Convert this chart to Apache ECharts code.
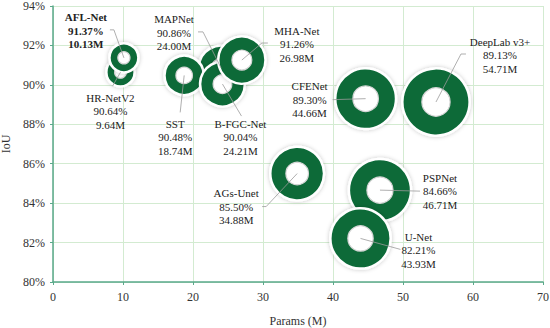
<!DOCTYPE html>
<html>
<head>
<meta charset="utf-8">
<script src="https://cdn.jsdelivr.net/npm/echarts@6/dist/echarts.min.js"></script>
<style>
html,body{margin:0;padding:0;background:#fff;}
#chart{width:550px;height:328px;}
</style>
</head>
<body>
<div id="chart"></div>
<script>
// Data (drawing order: later items drawn on top)
const models = ['HR-NetV2', 'AFL-Net', 'MAPNet', 'SST', 'B-FGC-Net', 'MHA-Net', 'CFENet', 'DeepLab v3+', 'AGs-Unet', 'PSPNet', 'U-Net'];
const paramsM = [9.64, 10.13, 24.00, 18.74, 24.21, 26.98, 44.66, 54.71, 34.88, 46.71, 43.93];
const iouPct = [90.64, 91.37, 90.86, 90.48, 90.04, 91.26, 89.30, 89.13, 85.50, 84.66, 82.21];
const xTicks = [0, 10, 20, 30, 40, 50, 60, 70];
const yTicks = [80, 82, 84, 86, 88, 90, 92, 94];

// Label layout (pixel offsets from bubble centre): text centre, leader bend/end points
const labelText = [[-10, 39], [-38, -27], [-47, -35], [-9, 62], [18, 53], [55, -16], [-56, 1], [64, -47], [-61, 33], [60, 1], [58, 12]];
const leaderPts = [
  [[-8, 14]],
  [[-10, -28], [-14, -28]],
  [[-18, -36], [-23, -36]],
  [[-4, 37]],
  [[19, 32]],
  [[20, -17], [26, -17]],
  [[-33, 1]],
  [[25, -48], [30, -48]],
  [[-31, 33], [-35, 33]],
  [[40, 1]],
  [[40, 11]]
];
const boldLabel = ['AFL-Net'];

const GREEN = '#0b6b39';
const FONT = 'Liberation Serif';

const chart = echarts.init(document.getElementById('chart'), null, {renderer: 'svg'});
const seriesData = models.map((m, i) => [paramsM[i], iouPct[i], m]);

chart.setOption({
  backgroundColor: '#fff',
  animation: false,
  grid: {left: 53, right: 7, top: 6, bottom: 46, containLabel: false, outerBoundsMode: 'none'},
  xAxis: {
    type: 'value', min: xTicks[0], max: xTicks[xTicks.length - 1], interval: 10,
    name: 'Params (M)', nameLocation: 'middle', nameGap: 33,
    nameTextStyle: {fontFamily: FONT, fontSize: 12, color: '#333'},
    axisLine: {show: true, lineStyle: {color: '#5aa98a', width: 1.5}},
    axisTick: {show: true, length: 3, lineStyle: {color: '#5aa98a'}},
    axisLabel: {fontFamily: FONT, fontSize: 12, color: '#333', margin: 9},
    splitLine: {show: true, lineStyle: {color: '#d3ebd1', width: 1}}
  },
  yAxis: {
    type: 'value', min: yTicks[0], max: yTicks[yTicks.length - 1], interval: 2,
    name: 'IoU', nameLocation: 'middle', nameGap: 38,
    nameTextStyle: {fontFamily: FONT, fontSize: 12, color: '#333'},
    axisLine: {show: true, lineStyle: {color: '#5aa98a', width: 1.5}},
    axisTick: {show: true, length: 3, lineStyle: {color: '#5aa98a'}},
    axisLabel: {fontFamily: FONT, fontSize: 12, color: '#333', margin: 8, formatter: '{value}%'},
    splitLine: {show: true, lineStyle: {color: '#d3ebd1', width: 1}}
  },
  series: [{
    type: 'custom',
    data: seriesData,
    renderItem: function (p, api) {
      const i = p.dataIndex;
      const c = api.coord([api.value(0), api.value(1)]);
      const r = 4.55 * Math.sqrt(api.value(0));
      const pts = [[c[0], c[1]]].concat(leaderPts[i].map(q => [c[0] + q[0], c[1] + q[1]]));
      const name = models[i];
      const txt = name + '\n' + iouPct[i].toFixed(2) + '%\n' + paramsM[i].toFixed(2) + 'M';
      return {
        type: 'group',
        children: [
          {type: 'circle', shape: {cx: c[0], cy: c[1], r: r},
           style: {fill: GREEN, stroke: '#ffffff', lineWidth: 2.5, shadowBlur: 4, shadowColor: 'rgba(0,0,0,0.22)', shadowOffsetX: 0, shadowOffsetY: 0}},
          {type: 'circle', shape: {cx: c[0], cy: c[1], r: r * 0.42},
           style: {fill: '#ffffff', stroke: '#d6d6d6', lineWidth: 1.2}},
          {type: 'polyline', z2: 100, shape: {points: pts},
           style: {fill: null, stroke: '#9a9a9a', lineWidth: 0.8}},
          {type: 'text', z2: 101,
           style: {text: txt, x: c[0] + labelText[i][0], y: c[1] + labelText[i][1],
                   align: 'center', verticalAlign: 'middle', fill: '#222',
                   fontFamily: FONT, fontSize: 11, lineHeight: 13.5,
                   fontWeight: boldLabel.indexOf(name) >= 0 ? 'bold' : 'normal'}}
        ]
      };
    }
  }]
});
</script>
</body>
</html>
